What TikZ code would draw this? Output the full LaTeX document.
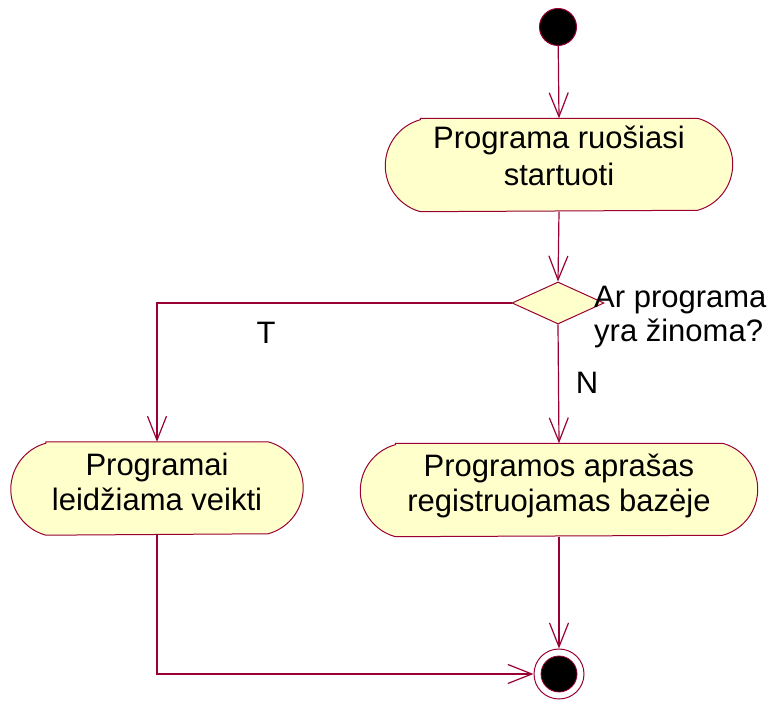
\documentclass[tikz,border=0pt]{standalone}
\usepackage{fontspec}
\setmainfont{Liberation Sans}
\usetikzlibrary{arrows.meta,shapes.geometric,backgrounds}
\definecolor{umlline}{RGB}{153,0,51}
\definecolor{umlfill}{RGB}{255,255,204}
\tikzset{
  flow/.style={draw=umlline, line width=1.2pt, -{Straight Barb[length=24pt,width=19pt]}},
  activity/.style={minimum height=93pt, inner sep=0pt},
  acttext/.style={inner sep=0pt, align=center, font=\fontsize{31}{35}\selectfont},
  decision/.style={diamond, draw=umlline, fill=umlfill, line width=1pt,
                   minimum width=92pt, minimum height=42pt, inner sep=0pt},
  label/.style={inner sep=0pt, font=\fontsize{31}{34}\selectfont},
  startstate/.style={circle, draw=umlline, fill=black, line width=1pt,
                     minimum size=37pt, inner sep=0pt},
  endstate/.style={circle, draw=umlline, fill=white, line width=1pt,
                   minimum size=50pt, inner sep=0pt},
  actshape/.style={draw=umlline, fill=umlfill, line width=1pt}
}
% rounded-ended activity outline around a rectangular node
\newcommand{\actoutline}[1]{%
  \path[actshape]
    ([xshift=34pt]#1.north west) -- ([xshift=-34pt]#1.north east)
    arc[start angle=74.6, end angle=-74.6, radius=47.7pt]
    -- ([xshift=34pt]#1.south west)
    arc[start angle=254.6, end angle=105.4, radius=47.7pt]
    -- cycle;}
\begin{document}
\begin{tikzpicture}[x=1pt,y=1pt]
  \useasboundingbox (0,0) rectangle (772,702);

  % states and activities
  \node[startstate] (start) at (558,675) {};
  \node[activity, minimum width=345pt] (prep) at (559,537) {};
  \node[decision] (known) at (558,399) {};
  \node[activity, minimum width=290pt] (allow) at (157,213.5) {};
  \node[activity, minimum width=395pt] (register) at (559,212) {};
  \node[endstate] (final) at (559,28) {};
  \fill[draw=umlline, line width=0.8pt, fill=black] (final.center) circle[radius=18pt];

  \begin{scope}[on background layer]
    \actoutline{prep}
    \actoutline{allow}
    \actoutline{register}
  \end{scope}

  % activity texts
  \node[acttext, font=\fontsize{31}{37}\selectfont] (preptext)
       at ([yshift=9pt]prep.center) {Programa ruošiasi\\startuoti};
  \node[acttext] (allowtext) at ([yshift=7pt]allow.center)
       {Programai\\leidžiama veikti};
  \node[acttext] (registertext) at ([yshift=4pt]register.center)
       {Programos aprašas\\registruojamas bazėje};

  % guard and decision labels
  \node[label, anchor=west, align=left] (question) at (594,385)
       {Ar programa\\yra žinoma?};
  \node[label] (tlabel) at (266,369) {T};
  \node[label] (nlabel) at (587,319) {N};

  \coordinate (bendT) at (allow.north |- known.west);
  \coordinate (bendF) at (allow.south |- final.west);

  % control flows
  \draw[flow] (start) -- (prep.north);
  \draw[flow] (prep.south) -- (known.north);
  \draw[flow] (known.west) -- (bendT) -- (allow.north);
  \draw[flow] (known.south) -- (register.north);
  \draw[flow] (allow.south) -- (bendF) -- (final.west);
  \draw[flow] (register.south) -- (final.north);
\end{tikzpicture}
\end{document}
